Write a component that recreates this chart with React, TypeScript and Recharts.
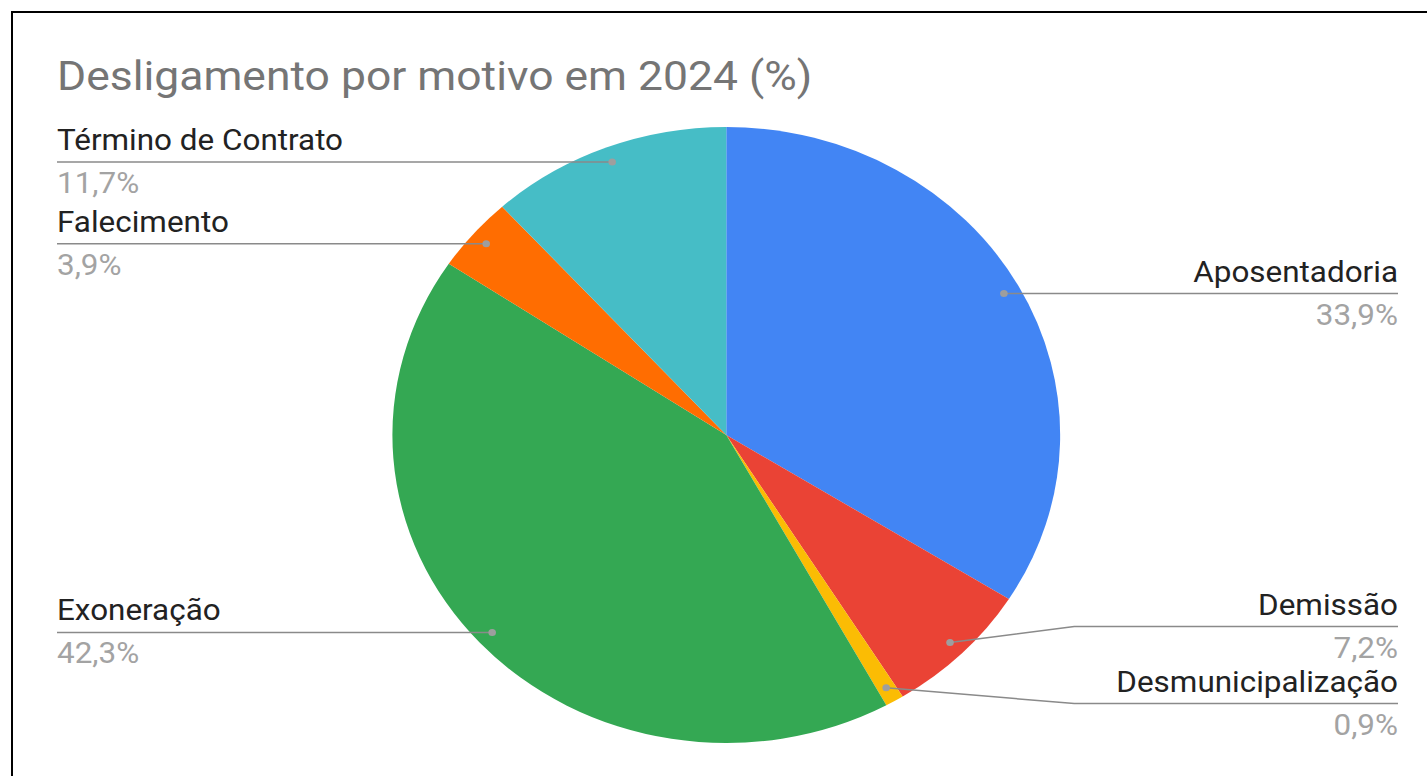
import { PieChart, Pie, Cell } from "recharts";

const motivos = [
  "Aposentadoria",
  "Demissão",
  "Desmunicipalização",
  "Exoneração",
  "Falecimento",
  "Término de Contrato",
];
const percentuais = [33.9, 7.2, 0.9, 42.3, 3.9, 11.7];
const valorLabels = ["33,9%", "7,2%", "0,9%", "42,3%", "3,9%", "11,7%"];
const cores = ["#4285f4", "#ea4335", "#fbbc04", "#34a853", "#ff6d01", "#46bdc6"];

const data = motivos.map((name, i) => ({ name, value: percentuais[i] }));

// the reference is a little wider than tall, so the whole chart is stretched in x
const SX = 1.084;
const W = Math.round(1427 / SX);
const H = 776;
const CX = 670;
const CY = 435;
const R = 308;
const LEFT_X = 57 / SX;
const RIGHT_X = 1398 / SX;
const GAP = 77;

type Pos = { dotX: number; dotY: number; y: number; right: boolean };

function layoutLabels(): Pos[] {
  const total = percentuais.reduce((a, b) => a + b, 0);
  let cum = 0;
  const pos: Pos[] = percentuais.map((v) => {
    const mid = 90 - (360 * (cum + v / 2)) / total;
    cum += v;
    const rad = (-mid * Math.PI) / 180;
    const dotX = CX + 0.95 * R * Math.cos(rad);
    const dotY = CY + 0.95 * R * Math.sin(rad);
    return { dotX, dotY, y: dotY, right: dotX >= CX };
  });
  // push apart labels that sit too close on the same side
  [true, false].forEach((side) => {
    const items = pos.filter((p) => p.right === side).sort((a, b) => a.dotY - b.dotY);
    let groups = items.map((p) => [p]);
    let merged = true;
    const place = (g: Pos[]) => {
      const mean = g.reduce((s, p) => s + p.dotY, 0) / g.length;
      g.forEach((p, k) => (p.y = mean + (k - (g.length - 1) / 2) * GAP));
    };
    while (merged) {
      merged = false;
      groups.forEach(place);
      for (let i = 0; i < groups.length - 1; i++) {
        const a = groups[i];
        const b = groups[i + 1];
        if (b[0].y - a[a.length - 1].y < GAP) {
          groups = [...groups.slice(0, i), [...a, ...b], ...groups.slice(i + 2)];
          merged = true;
          break;
        }
      }
    }
  });
  return pos;
}

const labelPos = layoutLabels();

function renderLabel(props: any) {
  const p = labelPos[props.index];
  const bendX = p.right ? CX + R + 13 : CX - R - 13;
  const endX = p.right ? RIGHT_X : LEFT_X;
  const anchor = p.right ? "end" : "start";
  return (
    <g key={`lbl-${props.index}`}>
      <polyline
        points={`${p.dotX},${p.dotY} ${bendX},${p.y} ${endX},${p.y}`}
        fill="none"
        stroke="#8a8a8a"
        strokeWidth={1.5}
      />
      <circle cx={p.dotX} cy={p.dotY} r={3.5} fill="#9e9e9e" />
      <text x={endX} y={p.y - 12} textAnchor={anchor} fontFamily="Roboto" fontSize={29} fill="#222222">
        {motivos[props.index]}
      </text>
      <text x={endX} y={p.y + 31} textAnchor={anchor} fontFamily="Roboto" fontSize={29} fill="#a3a3a3">
        {valorLabels[props.index]}
      </text>
    </g>
  );
}

export default function App() {
  return (
    <div
      style={{
        position: "absolute",
        left: 0,
        top: 0,
        width: 1427,
        height: 776,
        overflow: "hidden",
        background: "#fff",
      }}
    >
      <div
        style={{
          position: "absolute",
          left: 11,
          top: 11,
          width: 1500,
          height: 900,
          border: "2px solid #000",
        }}
      />
      <div
        style={{
          position: "absolute",
          left: 0,
          top: 0,
          width: W,
          height: H,
          transform: `scale(${SX}, 1)`,
          transformOrigin: "0 0",
        }}
      >
        <svg width={W} height={H} style={{ position: "absolute", left: 0, top: 0 }}>
          <text x={LEFT_X} y={90} fontFamily="Roboto" fontSize={41} fill="#757575">
            Desligamento por motivo em 2024 (%)
          </text>
        </svg>
        <div style={{ position: "absolute", left: 0, top: 0 }}>
          <PieChart width={W} height={H} margin={{ top: 0, right: 0, bottom: 0, left: 0 }}>
            <Pie
              data={data}
              dataKey="value"
              nameKey="name"
              cx={CX}
              cy={CY}
              outerRadius={R}
              startAngle={90}
              endAngle={-270}
              stroke="none"
              label={renderLabel}
              labelLine={false}
              isAnimationActive={false}
            >
              {data.map((entry, index) => (
                <Cell key={entry.name} fill={cores[index]} />
              ))}
            </Pie>
          </PieChart>
        </div>
      </div>
    </div>
  );
}
